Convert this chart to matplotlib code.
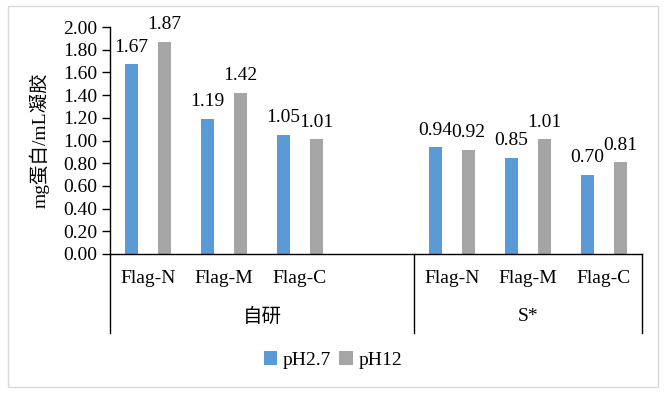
import matplotlib
matplotlib.use("Agg")
import matplotlib.pyplot as plt
from matplotlib.patches import Rectangle
import matplotlib.transforms as mtransforms

plt.rcParams['font.family'] = ['Liberation Serif', 'Noto Sans CJK SC', 'DejaVu Sans']

groups = ['自研', 'S*']
subcats = ['Flag-N', 'Flag-M', 'Flag-C']
series_names = ['pH2.7', 'pH12']
ph27 = [1.67, 1.19, 1.05, 0.94, 0.85, 0.70]
ph12 = [1.87, 1.42, 1.01, 0.92, 1.01, 0.81]
yticks = [0.00, 0.20, 0.40, 0.60, 0.80, 1.00, 1.20, 1.40, 1.60, 1.80, 2.00]
colors = ['#5B9BD5', '#A5A5A5']
ylabel = 'mg蛋白/mL凝胶'

# slot layout: group 0 uses 4 slots (last empty), group 1 uses 3
group_slots = [4, 3]
positions = []
group_edges = [0]
start = 0
for gi, n in enumerate(group_slots):
    for j in range(len(subcats)):
        positions.append(start + j + 0.5)
    start += n
    group_edges.append(start)
total = start

fig = plt.figure(figsize=(6.66, 3.96), dpi=100)
fig.patches.append(Rectangle((8/666, 1 - 387/396), 650/666, 381/396,
                             transform=fig.transFigure, fill=False,
                             edgecolor='#D9D9D9', linewidth=1.0))
ax = fig.add_axes([110/666, 1 - 254/396, 532/666, 227/396])

bw = 0.17
off = 0.217
fs = 14
for vals, c, sgn, name in [(ph27, colors[0], -1, series_names[0]),
                           (ph12, colors[1], 1, series_names[1])]:
    xs = [p + sgn * off for p in positions]
    ax.bar(xs, vals, width=bw, color=c, label=name)
    for x, v in zip(xs, vals):
        ax.annotate(f'{v:.2f}', (x, v), xytext=(0, 9), textcoords='offset points',
                    ha='center', va='baseline', fontsize=fs)

ax.set_xlim(0, total)
ax.set_ylim(0, 2.0)
ax.set_yticks(yticks)
ax.set_yticklabels([f'{t:.2f}' for t in yticks], fontsize=fs)
ax.tick_params(axis='y', length=5.5, width=1, pad=3.5, direction='out')
ax.set_xticks([])
for s in ['top', 'right']:
    ax.spines[s].set_visible(False)
ax.spines['left'].set_linewidth(1)
ax.spines['bottom'].set_linewidth(1)

trans = mtransforms.blended_transform_factory(ax.transData, ax.transAxes)
for i, p in enumerate(positions):
    ax.text(p, -0.110, subcats[i % len(subcats)], transform=trans,
            ha='center', va='center', fontsize=fs)
for gi, g in enumerate(groups):
    lo = group_edges[gi]
    hi = lo + len(subcats) if gi == 0 else group_edges[gi + 1]
    ax.text((lo + hi) / 2 + (0.5 if gi == 0 else 0), -0.2775, g, transform=trans,
            ha='center', va='center', fontsize=fs)
for e in group_edges:
    ax.plot([e, e], [0, -0.348], transform=trans, color='black', lw=1,
            clip_on=False)

ax.set_ylabel(ylabel, fontsize=fs)
ax.yaxis.set_label_coords(-0.113, 0.5)

fig.legend(loc='center', bbox_to_anchor=(333/666, 1 - 360/396), ncol=2,
           frameon=False, fontsize=fs, handlelength=0.7, handleheight=0.7,
           handletextpad=0.3, columnspacing=0.4)

fig.savefig('out.png', dpi=100)
